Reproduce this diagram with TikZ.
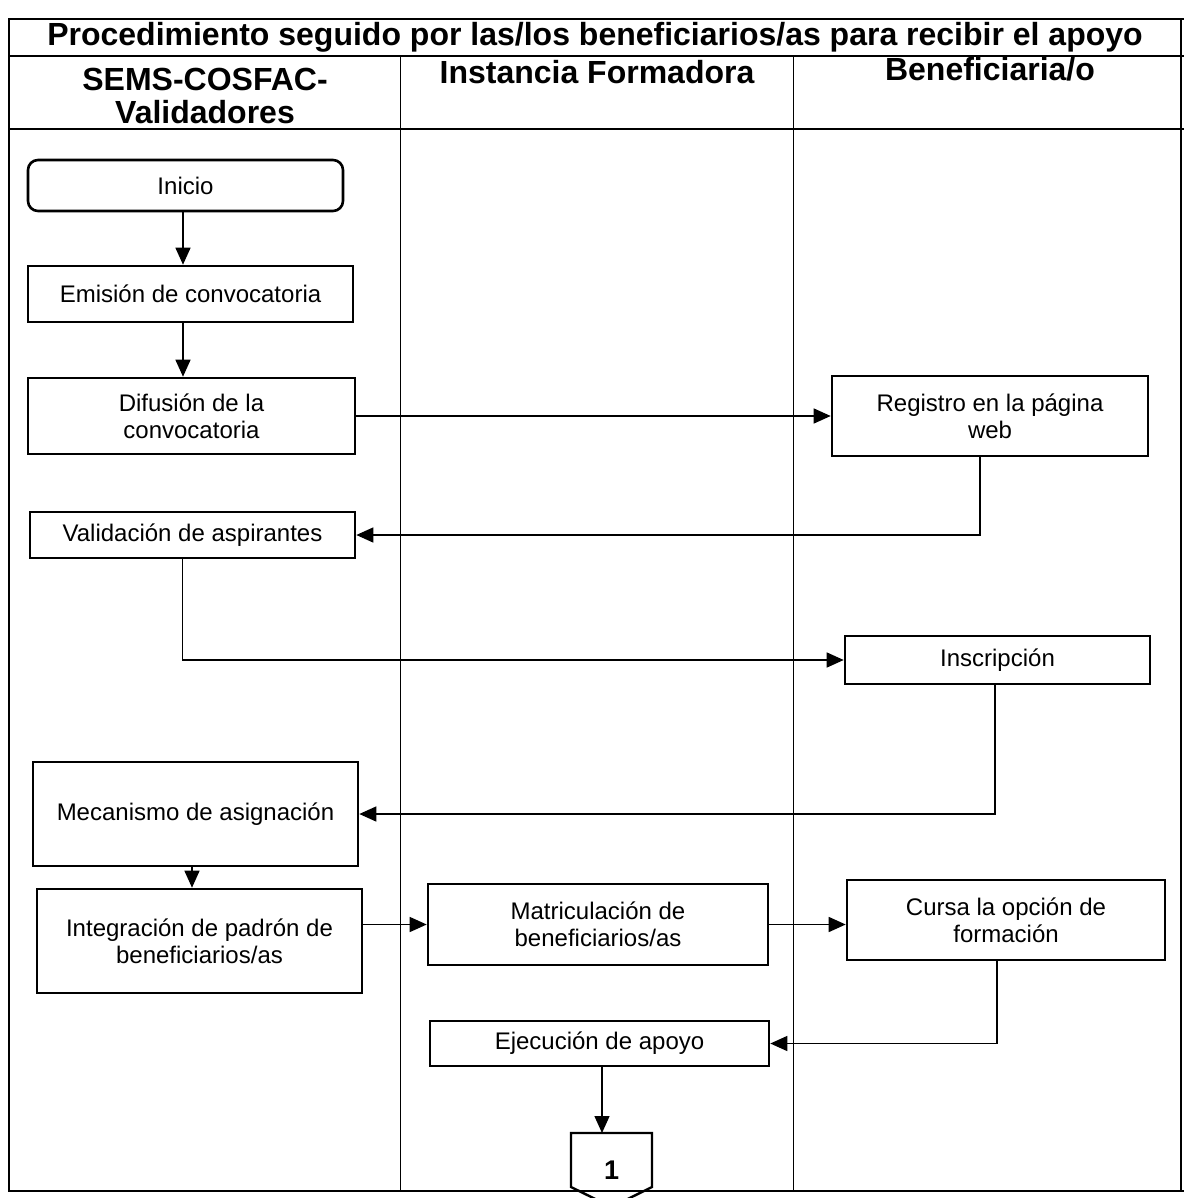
\documentclass[tikz,border=0pt]{standalone}
\usepackage{fontspec}
\setmainfont{Liberation Sans}
\usetikzlibrary{arrows.meta,calc}
\begin{document}
\begin{tikzpicture}[x=1pt,y=-1pt,
  box/.style={draw, line width=2.6pt, font=\fontsize{24}{27}\selectfont, align=center, inner sep=0pt},
  arr/.style={line width=1.4pt, -{Triangle[length=17pt,width=15pt]}},
  frame/.style={line width=1.5pt},
  head/.style={font=\fontsize{32}{34}\selectfont\bfseries, align=center, inner sep=0pt}]
\useasboundingbox (0,0) rectangle (1184,1198);
% frame
\draw[frame] (8,19) -- (1184,19);
\draw[frame] (8,56) -- (1184,56);
\draw[frame] (8,129) -- (1184,129);
\draw[frame] (8,1191) -- (1184,1191);
\draw[frame] (9,19) -- (9,1191);
\draw[frame] (1181,19) -- (1181,1191);
\draw[line width=1pt] (400,56) -- (400,1191);
\draw[line width=1pt] (793,56) -- (793,1191);
% headers
\node[head] (title) at (595,37) {Procedimiento seguido por las/los beneficiarios/as para recibir el apoyo};
\node[head] (h1) at (205,96) {SEMS-COSFAC-\\[-1pt]Validadores};
\node[head] (h2) at (597,72) {Instancia Formadora};
\node[head] (h3) at (990,69) {Beneficiaria/o};
% boxes
\node[box, rounded corners=10pt, minimum width=315pt, minimum height=51pt] (inicio) at (185.5,185.5) {Inicio};
\node[box, minimum width=325pt, minimum height=56pt] (emision) at (190.5,294) {Emisión de convocatoria};
\node[box, minimum width=327pt, minimum height=76pt] (difusion) at (191.5,416) {Difusión de la\\convocatoria};
\node[box, minimum width=316pt, minimum height=80pt] (registro) at (990,416) {Registro en la página\\web};
\node[box, minimum width=325pt, minimum height=46pt] (validacion) at (192.5,535) {Validación de aspirantes};
\node[box, minimum width=305pt, minimum height=48pt] (inscripcion) at (997.5,660) {Inscripción};
\node[box, minimum width=325pt, minimum height=104pt] (mecanismo) at (195.5,814) {Mecanismo de asignación};
\node[box, minimum width=325pt, minimum height=104pt] (integracion) at (199.5,941) {Integración de padrón de\\beneficiarios/as};
\node[box, minimum width=340pt, minimum height=81pt] (matriculacion) at (598,924.5) {Matriculación de\\beneficiarios/as};
\node[box, minimum width=318pt, minimum height=80pt] (cursa) at (1006,920) {Cursa la opción de\\formación};
\node[box, minimum width=339pt, minimum height=45pt] (ejecucion) at (599.5,1043.5) {Ejecución de apoyo};
% off-page connector
\draw[line width=2.4pt] (571,1133) -- (652,1133) -- (652,1187) -- (611.5,1207) -- (571,1187) -- cycle;
\node[font=\fontsize{27}{29}\selectfont\bfseries] (uno) at (611.5,1170) {1};
\coordinate (offtop) at (602,1133);
% connectors
\draw[arr] ([xshift=-2.5pt]inicio.south) -- ([xshift=-2.5pt]inicio.south |- emision.north);
\draw[arr] ([xshift=-7.5pt]emision.south) -- ([xshift=-7.5pt]emision.south |- difusion.north);
\draw[arr] (difusion.east) -- (registro.west);
\draw[arr] ([xshift=-10pt]registro.south) |- (validacion.east);
\draw[arr] ([xshift=-10pt]validacion.south) |- (inscripcion.west);
\draw[arr] ([xshift=-2.5pt]inscripcion.south) |- (mecanismo.east);
\draw[arr] ([xshift=-3.5pt]mecanismo.south) -- ([xshift=-3.5pt]mecanismo.south |- integracion.north);
\draw[arr] (matriculacion.west -| integracion.east) -- (matriculacion.west);
\draw[arr] (matriculacion.east) -- (matriculacion.east -| cursa.west);
\draw[arr] ([xshift=-9pt]cursa.south) |- (ejecucion.east);
\draw[arr] ([xshift=2.5pt]ejecucion.south) -- ([xshift=2.5pt]ejecucion.south |- offtop);
\end{tikzpicture}
\end{document}
